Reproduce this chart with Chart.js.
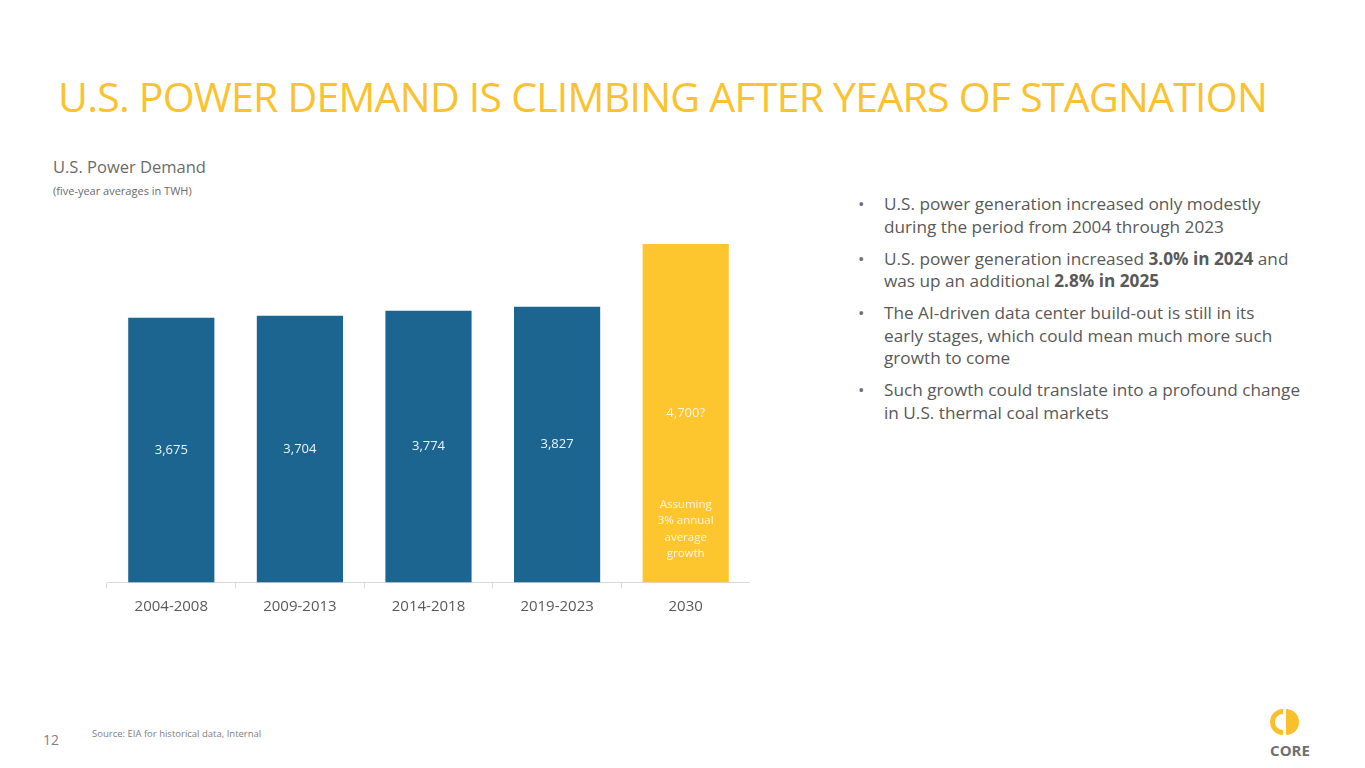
<!DOCTYPE html>
<html>
<head>
<meta charset="utf-8">
<script src="https://cdn.jsdelivr.net/npm/chart.js@4"></script>
<style>
  body { margin: 0; width: 1365px; height: 768px; background: #fff; position: relative; overflow: hidden; font-family: "Open Sans", sans-serif; color: #595959; }
  .abs { position: absolute; white-space: nowrap; }
  #title { left: 58px; top: 68px; font-size: 41px; color: #fbc230; letter-spacing: -0.75px; }
  #sub1 { left: 53px; top: 155px; font-size: 16.5px; color: #6b6b6b; }
  #sub2 { left: 53px; top: 183px; font-size: 11px; color: #6b6b6b; }
  #bullets { left: 858px; top: 193px; font-size: 17.2px; line-height: 22.6px; }
  #bullets div { position: relative; padding-left: 26px; margin-bottom: 9.4px; }
  #bullets div::before { content: "\2022"; position: absolute; left: 0; top: 0; color: #6f6f6f; }
  #page { left: 43px; top: 730px; font-size: 14px; color: #7f7f7f; }
  #source { left: 92px; top: 727px; font-size: 9.5px; color: #808080; }
  #chartBox { left: 100px; top: 234px; width: 650px; height: 400px; }
  #logo { left: 1262px; top: 704px; }
</style>
</head>
<body>
<div class="abs" id="title">U.S. POWER DEMAND IS CLIMBING AFTER YEARS OF STAGNATION</div>
<div class="abs" id="sub1">U.S. Power Demand</div>
<div class="abs" id="sub2">(five-year averages in TWH)</div>

<div class="abs" id="bullets">
  <div>U.S. power generation increased only modestly<br>during the period from 2004 through 2023</div>
  <div>U.S. power generation increased <b>3.0% in 2024</b> and<br>was up an additional <b>2.8% in 2025</b></div>
  <div>The AI-driven data center build-out is still in its<br>early stages, which could mean much more such<br>growth to come</div>
  <div>Such growth could translate into a profound change<br>in U.S. thermal coal markets</div>
</div>

<div class="abs" id="chartBox"><canvas id="myChart"></canvas></div>

<div class="abs" id="page">12</div>
<div class="abs" id="source">Source: EIA for historical data, Internal</div>

<svg class="abs" id="logo" width="60" height="60" viewBox="0 0 60 60">
  <path d="M21 5 A13 13 0 0 0 21 31 L21 26 A8 8 0 0 1 21 10 Z" fill="#f9c02c"/>
  <path d="M24 5 A13 13 0 0 1 24 31 Z" fill="#f9c02c"/>
  <text x="28" y="52" text-anchor="middle" font-family="Open Sans" font-weight="700" font-size="15" fill="#6f6f6f">CORE</text>
</svg>

<script>
// 카테고리와 값
const periods = ["2004-2008", "2009-2013", "2014-2018", "2019-2023", "2030"];
const demandTwh = [3675, 3704, 3774, 3827, 4700];
const valueLabels = ["3,675", "3,704", "3,774", "3,827", "4,700?"];
const barColors = ["#1b6590", "#1b6590", "#1b6590", "#1b6590", "#fdc52e"];
const noteLines = ["Assuming", "3% annual", "average", "growth"];

let myChart;

// 막대 안쪽 라벨 그리기
const barLabels = {
  id: "barLabels",
  afterDatasetsDraw(chart) {
    const ctx = chart.ctx;
    const meta = chart.getDatasetMeta(0);
    ctx.save();
    ctx.textAlign = "center";
    ctx.textBaseline = "middle";
    meta.data.forEach((bar, i) => {
      const mid = (bar.y + bar.base) / 2;
      ctx.fillStyle = i === 4 ? "rgba(255,255,255,0.85)" : "rgba(255,255,255,0.92)";
      ctx.font = "13px 'Open Sans'";
      ctx.fillText(valueLabels[i], bar.x, mid);
      if (i === 4) {
        ctx.font = "11.5px 'Open Sans'";
        noteLines.forEach((line, j) => {
          ctx.fillText(line, bar.x, bar.base - 78 + j * 16.5);
        });
      }
    });
    ctx.restore();
  },
};

window.addEventListener("DOMContentLoaded", () => {
  const ctx = document.getElementById("myChart").getContext("2d");
  myChart = new Chart(ctx, {
    type: "bar",
    data: {
      labels: periods,
      datasets: [
        {
          data: demandTwh,
          backgroundColor: barColors,
          categoryPercentage: 1,
          barPercentage: 0.67,
        },
      ],
    },
    options: {
      responsive: true,
      maintainAspectRatio: false,
      animation: false,
      layout: { padding: { left: 7, top: 10, right: 0, bottom: 0 } },
      plugins: {
        legend: { display: false },
        tooltip: { enabled: false },
      },
      scales: {
        x: {
          grid: { offset: true, drawOnChartArea: false, tickLength: 6, color: "#d9d9d9" },
          border: { color: "#d9d9d9" },
          ticks: { color: "#595959", font: { family: "Open Sans", size: 15 }, padding: 9 },
          afterFit(scale) { scale.height = 51.5; },
        },
        y: {
          display: false,
          min: 0,
          max: 4700,
        },
      },
    },
    plugins: [barLabels],
  });
});
</script>
</body>
</html>
